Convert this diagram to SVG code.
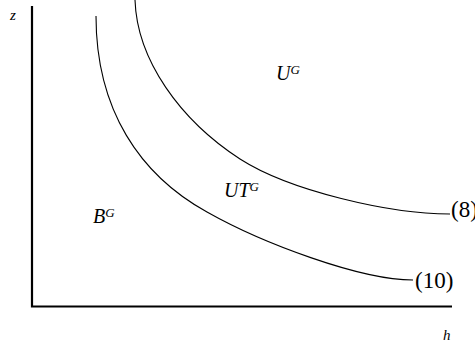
<svg xmlns="http://www.w3.org/2000/svg" width="475" height="345" viewBox="0 0 475 345">
<style>
.axis{stroke:#000;stroke-width:2.2;fill:none}
.curve{stroke:#000;stroke-width:1.1;fill:none}
.it{font-family:"Liberation Serif",serif;font-style:italic;fill:#000}
.rm{font-family:"Liberation Serif",serif;fill:#000}
</style>
<rect width="475" height="345" fill="#fff"/>
<g id="axes">
<path class="axis" d="M32,6 V306.5 H452"/>
</g>
<g id="connectors">
<path id="curve10" class="curve" d="M96,16 C96,110 140,175 207,212 C262,243 360,280 413,280"/>
<path id="curve8" class="curve" d="M135,0 C137,60 180,120 240,159 C290,191 390,214 450,214"/>
</g>
<g id="label-z"><text class="it" x="10" y="20" font-size="15">z</text></g>
<g id="label-h"><text class="it" x="443" y="340" font-size="15">h</text></g>
<g id="label-UG"><text class="it" x="276" y="80" font-size="20">U<tspan font-size="13" dy="-6">G</tspan></text></g>
<g id="label-UTG"><text class="it" x="224" y="197" font-size="20">UT<tspan font-size="13" dy="-6">G</tspan></text></g>
<g id="label-BG"><text class="it" x="93" y="223" font-size="20">B<tspan font-size="13" dy="-6">G</tspan></text></g>
<g id="label-8"><text class="rm" x="451" y="217" font-size="23">(8)</text></g>
<g id="label-10"><text class="rm" x="415" y="288" font-size="23">(10)</text></g>
</svg>
